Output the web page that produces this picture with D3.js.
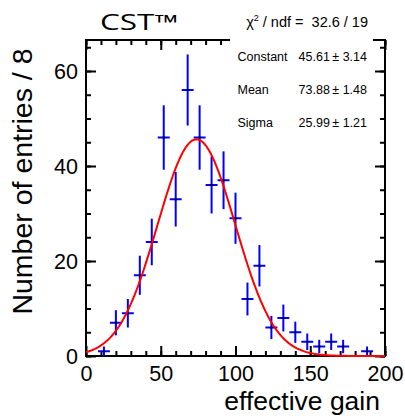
<!DOCTYPE html>
<html>
<head>
<meta charset="utf-8">
<script src="https://cdn.jsdelivr.net/npm/d3@7"></script>
<style>
  html, body { margin: 0; padding: 0; background: #fff; }
  svg { display: block; }
</style>
</head>
<body>
<svg id="chart" width="405" height="416"></svg>
<script>
// ---- data ----
const binCenters = [12, 20, 28, 36, 44, 52, 60, 68, 76, 84, 92, 100, 108, 116, 124, 132, 140, 148, 156, 164, 172, 188];
const counts     = [1, 7, 9, 17, 24, 46, 33, 56, 46, 36, 37, 29, 12, 19, 6, 8, 5, 3, 2, 3, 2, 1];
const binWidth = 8;
const fitParams = [45.61, 73.88, 25.99]; // constant, mean, sigma
const xMajorTicks = [0, 50, 100, 150, 200];
const yMajorTicks = [0, 20, 40, 60];
const xMinorTicks = d3.range(0, 201, 10);
const yMinorTicks = d3.range(0, 66, 5);
const statNames = ["Constant", "Mean", "Sigma"];
const statValues = ["45.61", "73.88", "25.99"];
const statErrors = ["3.14", "1.48", "1.21"];
const chiText = "32.6 / 19";
const title = "CST\u2122";
const xLabel = "effective gain";
const yLabel = "Number of entries / 8";

// ---- layout ----
const svg = d3.select("#chart");
const L = 86, R = 385, T = 40, B = 356;
const x = d3.scaleLinear().domain([0, 200]).range([L, R]);
const y = d3.scaleLinear().domain([0, (B - T) / 4.75]).range([B, T]);

const sans = "'Open Sans', 'DejaVu Sans', sans-serif";
const arial = "'Liberation Sans', Arial, sans-serif";

// ---- axes (ticks inside) ----
function styleAxis(g) {
  g.select(".domain").remove();
  g.selectAll(".tick line").attr("stroke", "#000").attr("stroke-width", 2);
}
// bottom
svg.append("g").attr("transform", `translate(0,${B})`)
  .call(d3.axisBottom(x).tickValues(xMinorTicks).tickSize(-5).tickFormat(""))
  .call(styleAxis);
const xAx = svg.append("g").attr("transform", `translate(0,${B})`)
  .call(d3.axisBottom(x).tickValues(xMajorTicks).tickSize(-10).tickFormat(d3.format("d")))
  .call(styleAxis);
xAx.selectAll(".tick text").attr("y", 25).attr("dy", null)
  .attr("font-family", arial).attr("font-size", 21.5).attr("fill", "#000");
// top
svg.append("g").attr("transform", `translate(0,${T})`)
  .call(d3.axisTop(x).tickValues(xMinorTicks).tickSize(-5).tickFormat(""))
  .call(styleAxis);
svg.append("g").attr("transform", `translate(0,${T})`)
  .call(d3.axisTop(x).tickValues(xMajorTicks).tickSize(-10).tickFormat(""))
  .call(styleAxis);
// left
svg.append("g").attr("transform", `translate(${L},0)`)
  .call(d3.axisLeft(y).tickValues(yMinorTicks).tickSize(-5).tickFormat(""))
  .call(styleAxis);
const yAx = svg.append("g").attr("transform", `translate(${L},0)`)
  .call(d3.axisLeft(y).tickValues(yMajorTicks).tickSize(-10).tickFormat(d3.format("d")))
  .call(styleAxis);
yAx.selectAll(".tick text").attr("x", -8).attr("dy", "0.36em")
  .attr("font-family", arial).attr("font-size", 21.5).attr("fill", "#000");
// right
svg.append("g").attr("transform", `translate(${R},0)`)
  .call(d3.axisRight(y).tickValues(yMinorTicks).tickSize(-5).tickFormat(""))
  .call(styleAxis);
svg.append("g").attr("transform", `translate(${R},0)`)
  .call(d3.axisRight(y).tickValues(yMajorTicks).tickSize(-10).tickFormat(""))
  .call(styleAxis);

// frame
svg.append("rect").attr("x", L).attr("y", T).attr("width", R - L).attr("height", B - T)
  .attr("fill", "none").attr("stroke", "#000").attr("stroke-width", 2);

// ---- histogram points with error bars ----
const pts = binCenters.map((c, i) => ({ c, n: counts[i], e: Math.sqrt(counts[i]) }));
const pg = svg.append("g");
pg.selectAll("line.v").data(pts).join("line").attr("class", "v")
  .attr("x1", d => x(d.c)).attr("x2", d => x(d.c))
  .attr("y1", d => y(Math.max(0, d.n - d.e))).attr("y2", d => y(d.n + d.e))
  .attr("stroke", "#0000ff").attr("stroke-width", 2);
pg.selectAll("line.h").data(pts).join("line").attr("class", "h")
  .attr("x1", d => x(d.c - binWidth / 2)).attr("x2", d => x(d.c + binWidth / 2))
  .attr("y1", d => y(d.n)).attr("y2", d => y(d.n))
  .attr("stroke", "#0000ff").attr("stroke-width", 2);
pg.selectAll("rect.m").data(pts).join("rect").attr("class", "m")
  .attr("x", d => x(d.c) - 1).attr("y", d => y(d.n) - 1).attr("width", 2).attr("height", 2)
  .attr("fill", "#000");

// ---- gaussian fit curve ----
const [A, mu, sg] = fitParams;
const gauss = v => A * Math.exp(-0.5 * ((v - mu) / sg) ** 2);
const curveX = d3.range(0, 200.01, 1);
svg.append("path").datum(curveX)
  .attr("d", d3.line().x(v => x(v)).y(v => y(gauss(v))))
  .attr("fill", "none").attr("stroke", "#ff0000").attr("stroke-width", 2);

// ---- stats box ----
svg.append("rect").attr("x", 230).attr("y", 4).attr("width", 143).attr("height", 134).attr("fill", "#fff");
const chi = svg.append("text").attr("x", 368).attr("y", 27).attr("text-anchor", "end")
  .attr("font-family", arial).attr("font-size", 14.5).attr("fill", "#000");
chi.append("tspan").text("\u03c7");
chi.append("tspan").attr("font-size", 9).attr("dy", -6).text("2");
chi.append("tspan").attr("dy", 6).text("\u00a0/ ndf =\u00a0\u00a0" + chiText);

const rowsY = [60.5, 94, 126.5];
statNames.forEach((nm, i) => {
  svg.append("text").attr("x", 237.5).attr("y", rowsY[i])
    .attr("font-family", arial).attr("font-size", 12.5).attr("fill", "#000").text(nm);
  svg.append("text").attr("x", 367).attr("y", rowsY[i]).attr("text-anchor", "end")
    .attr("font-family", arial).attr("font-size", 12.5).attr("fill", "#000")
    .text(statValues[i] + "\u2009\u00b1 " + statErrors[i]);
});

// ---- titles ----
svg.append("text").attr("transform", "translate(100,30) scale(1.5,1)")
  .attr("font-family", sans).attr("font-size", 21).attr("fill", "#000").text(title);
svg.append("text").attr("x", 380).attr("y", 410).attr("text-anchor", "end")
  .attr("font-family", arial).attr("font-size", 26.5).attr("fill", "#000").text(xLabel);
svg.append("text").attr("transform", "translate(32,181.5) rotate(-90)").attr("text-anchor", "middle")
  .attr("font-family", arial).attr("font-size", 28.5).attr("fill", "#000").text(yLabel);
</script>
</body>
</html>
